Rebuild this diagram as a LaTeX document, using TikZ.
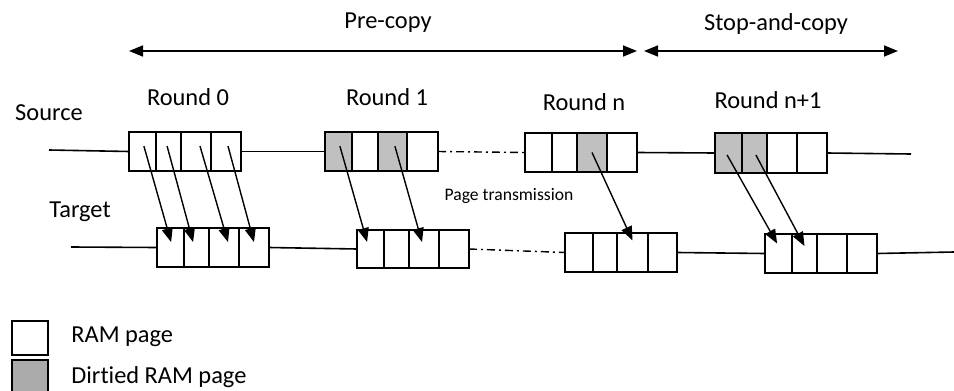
\documentclass[tikz,border=0pt]{standalone}
\usepackage{fontspec}
\setmainfont{Carlito}[Ligatures=NoCommon,RawFeature={-liga;-calt;-clig;-dlig}]
\usetikzlibrary{arrows.meta}
\definecolor{dirty}{HTML}{C0C0C0}
\definecolor{dirtyleg}{HTML}{ABABAB}
\tikzset{
  cell/.style={draw=black,line width=0.85pt,rectangle,inner sep=0pt,outer sep=0pt},
  wire/.style={line width=0.8pt},
  dashdot/.style={line width=0.7pt,dash pattern=on 4pt off 2pt on 1pt off 2pt},
  xfer/.style={line width=0.7pt,-{Triangle[length=7pt,width=5.5pt]}},
  phase/.style={line width=0.8pt,{Triangle[length=7pt,width=5.5pt]}-{Triangle[length=7pt,width=5.5pt]}},
  lbl/.style={font=\fontsize{12.2}{14}\selectfont,inner sep=0pt},
  small/.style={font=\fontsize{8.8}{10}\selectfont,inner sep=0pt}
}
\newcommand\pcell[6]{\node[cell,fill=#6,minimum width={(#3-#2)*0.5pt},minimum height={(#5-#4)*0.5pt}] (#1) at ({(#2+#3)/2},{(#4+#5)/2}) {};}
\begin{document}
\begin{tikzpicture}[x=0.5pt,y=-0.5pt]
\useasboundingbox (0,0) rectangle (954,391);
\clip (0,0) rectangle (954,391);
% phase arrows
\coordinate (pc1) at (129,51);
\coordinate (pc2) at (637,51);
\coordinate (sc1) at (644,51);
\coordinate (sc2) at (898,51);
\draw[phase] (pc1) -- (pc2);
\draw[phase] (sc1) -- (sc2);
\node[lbl] (pre) at (388,23) {Pre-copy};
\node[lbl] (stop) at (776,24) {Stop-and-copy};
% labels
\node[lbl] (r0) at (188,97) {Round 0};
\node[lbl] (r1) at (387,97) {Round 1};
\node[lbl] (rn) at (584,102) {Round n};
\node[lbl] (rn1) at (768,100) {Round n+1};
\node[lbl] (src) at (49,113) {Source};
\node[lbl] (tgt) at (80,212) {Target};
\node[small] (ptx) at (509,196) {Page transmission};
% source cells
\pcell{s0a}{129}{156}{132}{171}{white}
\pcell{s0b}{156}{181}{132}{171}{white}
\pcell{s0c}{181}{211}{132}{171}{white}
\pcell{s0d}{211}{241}{132}{171}{white}
\pcell{s1a}{325}{352}{132}{171}{dirty}
\pcell{s1b}{352}{378}{132}{171}{white}
\pcell{s1c}{378}{407}{132}{171}{dirty}
\pcell{s1d}{407}{438}{132}{171}{white}
\pcell{sna}{525}{552}{133}{172}{white}
\pcell{snb}{552}{577}{133}{172}{white}
\pcell{snc}{577}{607}{133}{172}{dirty}
\pcell{snd}{607}{637}{133}{172}{white}
\pcell{sma}{715}{742}{133}{173}{dirty}
\pcell{smb}{742}{767}{133}{173}{dirty}
\pcell{smc}{767}{797}{133}{173}{white}
\pcell{smd}{797}{827}{133}{173}{white}
% target cells
\pcell{t0a}{157}{184}{228}{267}{white}
\pcell{t0b}{184}{209}{228}{267}{white}
\pcell{t0c}{209}{239}{228}{267}{white}
\pcell{t0d}{239}{269}{228}{267}{white}
\pcell{t1a}{357}{384}{230}{268}{white}
\pcell{t1b}{384}{409}{230}{268}{white}
\pcell{t1c}{409}{439}{230}{268}{white}
\pcell{t1d}{439}{469}{230}{268}{white}
\pcell{tna}{565}{593}{233}{272}{white}
\pcell{tnb}{593}{617}{233}{272}{white}
\pcell{tnc}{617}{648}{233}{272}{white}
\pcell{tnd}{648}{677}{233}{272}{white}
\pcell{tma}{765}{792}{234}{273}{white}
\pcell{tmb}{792}{817}{234}{273}{white}
\pcell{tmc}{817}{847}{234}{273}{white}
\pcell{tmd}{847}{877}{234}{273}{white}
% source line
\coordinate (srcL) at (49,150);
\coordinate (srcR) at (911,154);
\draw[wire] (srcL) -- (s0a.west);
\draw[wire] (s0d.east) -- (s1a.west);
\draw[dashdot] (s1d.east) -- (sna.west);
\draw[wire] (snd.east) -- (sma.west);
\draw[wire] (smd.east) -- (srcR);
% target line
\coordinate (tgtL) at (71,247);
\coordinate (tgtR) at (954,252);
\draw[wire] (tgtL) -- (t0a.west);
\draw[wire] (t0d.east) -- (t1a.west);
\draw[dashdot] (t1d.east) -- (tna.west);
\draw[wire] (tnd.east) -- (tma.west);
\draw[wire] (tmd.east) -- (tgtR);
% transfers
\draw[xfer] ([xshift=0.7pt,yshift=2.7pt]s0a.center) -- ([xshift=0.3pt,yshift=2.7pt]t0a.center);
\draw[xfer] ([xshift=-0.7pt,yshift=2.7pt]s0b.center) -- ([xshift=-1.7pt,yshift=2.7pt]t0b.center);
\draw[xfer] ([xshift=2pt,yshift=2.7pt]s0c.center) -- ([xshift=2pt,yshift=2.7pt]t0c.center);
\draw[xfer] ([xshift=1pt,yshift=2.7pt]s0d.center) -- ([yshift=2.7pt]t0d.center);
\draw[xfer] ([xshift=0.7pt,yshift=2.7pt]s1a.center) -- ([xshift=-1.7pt,yshift=3.5pt]t1a.center);
\draw[xfer] ([xshift=1.2pt,yshift=2.7pt]s1c.center) -- ([xshift=-1pt,yshift=3.5pt]t1c.center);
\draw[xfer] ([yshift=0pt]snc.center) -- ([yshift=6pt]tnc.center);
\draw[xfer] ([xshift=-0.7pt,yshift=-1pt]sma.center) -- ([xshift=-0.7pt,yshift=5pt]tma.center);
\draw[xfer] ([xshift=0.7pt,yshift=-1pt]smb.center) -- ([yshift=3.7pt]tmb.center);
% legend
\pcell{legW}{12}{48}{321}{355}{white}
\pcell{legG}{12}{48}{360}{396}{dirtyleg}
\node[lbl,anchor=west] (legWt) at (71,337) {RAM page};
\node[lbl,anchor=west] (legGt) at (71,377) {Dirtied RAM page};
\end{tikzpicture}
\end{document}
